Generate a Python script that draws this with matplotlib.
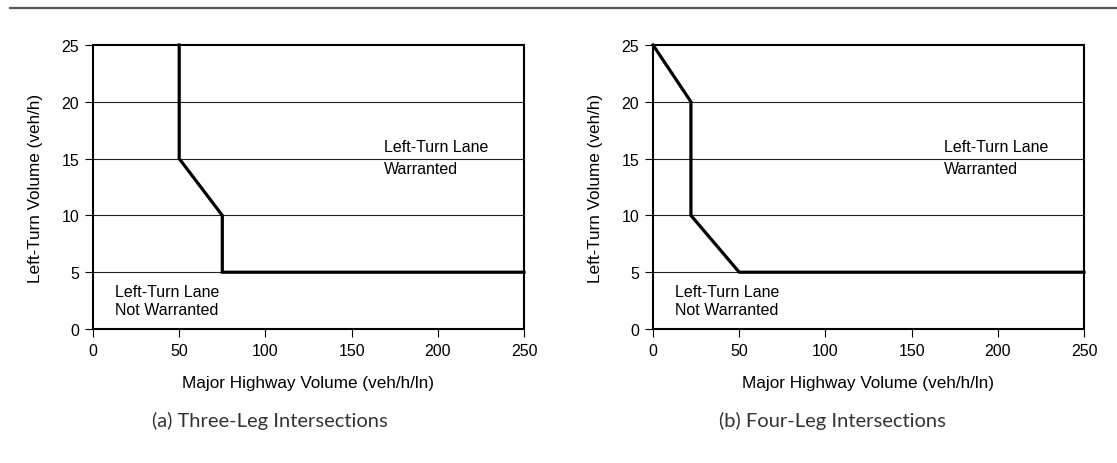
import matplotlib
matplotlib.use("Agg")
import matplotlib.pyplot as plt
from matplotlib.lines import Line2D

plt.rcParams['font.family'] = ['Liberation Sans', 'DejaVu Sans']

# curve break points (major highway volume, left-turn volume)
three_leg_x = [50, 50, 75, 75, 250]
three_leg_y = [25, 15, 10, 5, 5]
four_leg_x = [0, 22, 22, 50, 250]
four_leg_y = [25, 20, 10, 5, 5]

x_ticks = [0, 50, 100, 150, 200, 250]
y_ticks = [0, 5, 10, 15, 20, 25]
captions = ['(a) Three-Leg Intersections', '(b) Four-Leg Intersections']

fig = plt.figure(figsize=(11.17, 4.64), dpi=100)

# rule across the top
fig.add_artist(Line2D([0.009, 1.0], [1 - 9/464, 1 - 9/464], color='#555555', lw=1.6))

lefts = [93/1117, 653/1117]
curves = [(three_leg_x, three_leg_y), (four_leg_x, four_leg_y)]

for i in range(2):
    ax = fig.add_axes([lefts[i], 1 - 330/464, 431/1117, 284/464])
    for yy in [5, 10, 15, 20]:
        ax.axhline(yy, color='#222222', lw=0.8, zorder=1)
    cx, cy = curves[i]
    ax.plot(cx, cy, color='black', lw=2.3, zorder=3, solid_joinstyle='miter', clip_on=False)
    ax.set_xlim(0, 250)
    ax.set_ylim(0, 25)
    ax.set_xticks(x_ticks)
    ax.set_yticks(y_ticks)
    ax.tick_params(direction='out', length=6, width=0.8, labelsize=11.5, pad=4)
    for s in ax.spines.values():
        s.set_linewidth(1.5)
    ax.set_xlabel('Major Highway Volume (veh/h/ln)', fontsize=12.3, labelpad=12)
    ax.set_ylabel('Left-Turn Volume (veh/h)', fontsize=12.3, labelpad=13)
    ax.text(169, 16.1, 'Left-Turn Lane', fontsize=11.5, va='center', ha='left')
    ax.text(169, 14.1, 'Warranted', fontsize=11.5, va='center', ha='left')
    ax.text(13, 3.3, 'Left-Turn Lane', fontsize=11.5, va='center', ha='left')
    ax.text(13, 1.7, 'Not Warranted', fontsize=11.5, va='center', ha='left')

fig.text(270/1117, 1 - 421/464, captions[0], ha='center', va='center', fontsize=14.5,
         family=['Lato', 'DejaVu Sans'], color='#333333')
fig.text(832/1117, 1 - 421/464, captions[1], ha='center', va='center', fontsize=14.5,
         family=['Lato', 'DejaVu Sans'], color='#333333')

fig.savefig('out.png', dpi=100)
